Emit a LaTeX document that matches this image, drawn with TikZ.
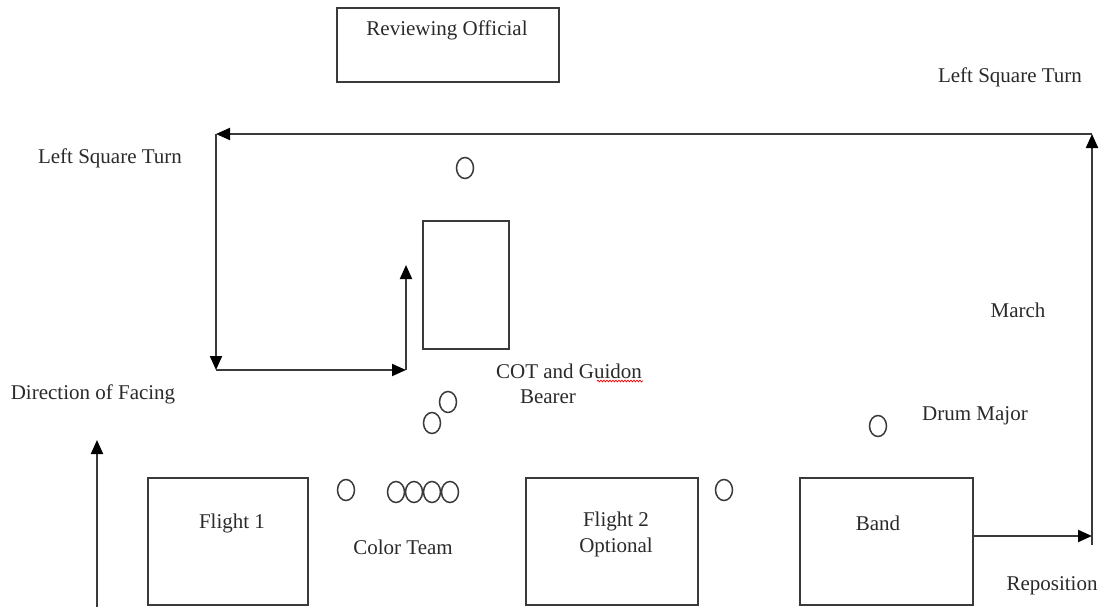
\documentclass[tikz,border=0pt]{standalone}
\usepackage{fontspec}
\setmainfont{Liberation Serif}
\usetikzlibrary{arrows.meta,shapes.geometric,decorations.pathmorphing}
\definecolor{ink}{HTML}{3A3A3A}
\definecolor{txt}{HTML}{2A2A2A}
\tikzset{
  box/.style={draw=ink,line width=2pt,inner sep=0pt},
  lbl/.style={text=txt,font=\fontsize{21}{26}\selectfont,inner sep=0pt,align=center},
  man/.style={draw=ink,ellipse,line width=1.5pt,minimum width=17pt,minimum height=21pt,inner sep=0pt},
  route/.style={draw=ink,line width=2pt,-{Triangle[length=14pt,width=12pt,color=black]}},
}
\begin{document}
\begin{tikzpicture}[x=1pt,y=-1pt]
\useasboundingbox (0,0) rectangle (1104,610);
% boxes
\node[box,minimum width=222pt,minimum height=74pt] (ro) at (448,45) {};
\node[lbl] (rot) at (447,30) {Reviewing Official};
\node[box,minimum width=86pt,minimum height=128pt] (mid) at (466,285) {};
\node[box,minimum width=160pt,minimum height=127pt] (f1) at (228,541.5) {};
\node[lbl] (f1t) at (232,523) {Flight 1};
\node[box,minimum width=172pt,minimum height=127pt] (f2) at (612,541.5) {};
\node[lbl] (f2t) at (616,534) {Flight 2\\Optional};
\node[box,minimum width=173pt,minimum height=127pt] (band) at (886.5,541.5) {};
\node[lbl] (bandt) at (878,523) {Band};
% labels
\node[lbl] (lstR) at (1010,77) {Left Square Turn};
\node[lbl] (lstL) at (110,158) {Left Square Turn};
\node[lbl] (march) at (1018,310) {March};
\node[lbl] (dm) at (975,416) {Drum Major};
\node[lbl] (cot) at (569,371) {COT and Guidon};
\node[lbl] (bearer) at (548,397) {Bearer};
\node[lbl] (ct) at (403,547) {Color Team};
\node[lbl] (dof) at (93,394) {Direction of Facing};
\node[lbl] (rep) at (1052,586) {Reposition};
% spell-check underline
\draw[red,line width=0.7pt,decorate,decoration={snake,amplitude=0.9pt,segment length=3pt}] (597,381) -- (643,381);
% people
\node[man] (p0) at (465,168) {};
\node[man] (p1) at (448,402) {};
\node[man] (p2) at (432,423) {};
\node[man] (p3) at (346,490) {};
\node[man] (c1) at (396,492) {};
\node[man] (c2) at (414,492) {};
\node[man] (c3) at (432,492) {};
\node[man] (c4) at (450,492) {};
\node[man] (p4) at (724,490) {};
\node[man] (p5) at (878,426) {};
% route
\coordinate (rA) at (1092,536);
\coordinate (rB) at (1092,134);
\coordinate (rC) at (216,134);
\coordinate (rD) at (216,370);
\coordinate (rE) at (406,370);
\coordinate (rF) at (406,265);
\coordinate (rG) at (1092,545);
\draw[route] (band.east |- rA) -- (rA);
\draw[route] (rG) -- (rB);
\draw[route] (rB) -- (rC);
\draw[route] (rC) -- (rD);
\draw[route] (rD) -- (rE);
\draw[route] (rE) -- (rF);
% direction of facing
\coordinate (dA) at (97,607);
\coordinate (dB) at (97,440);
\draw[route] (dA) -- (dB);
\end{tikzpicture}
\end{document}
